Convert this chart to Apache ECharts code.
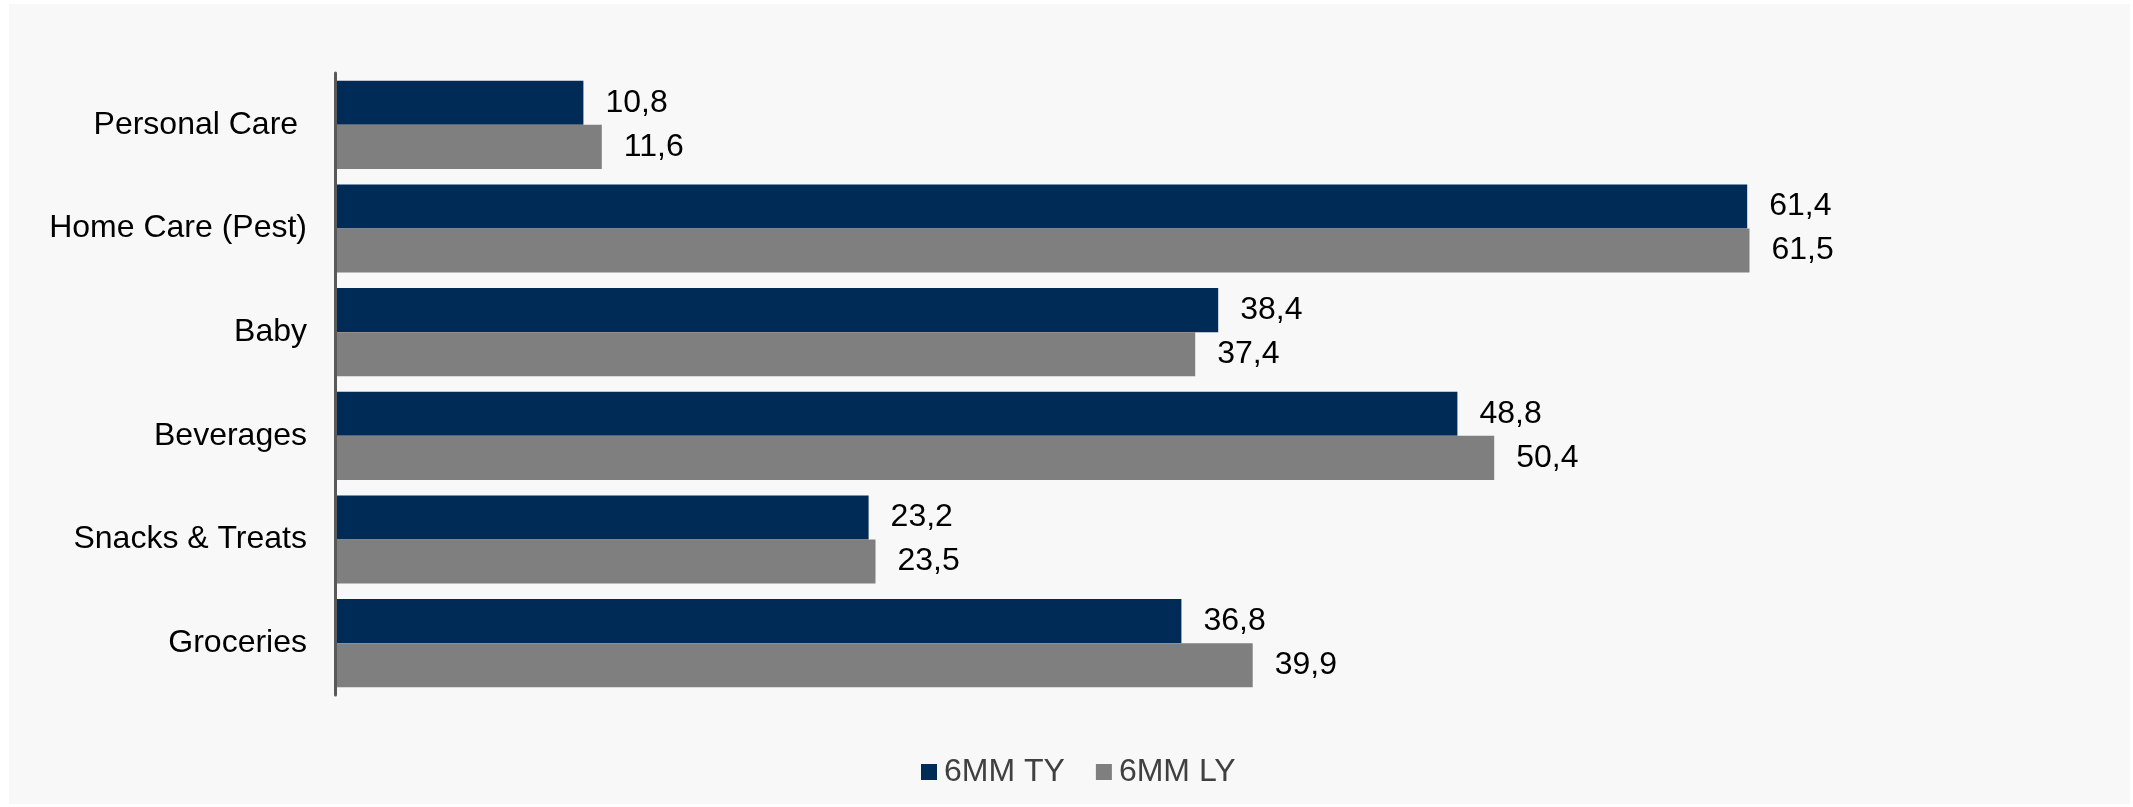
<!DOCTYPE html>
<html>
<head>
<meta charset="utf-8">
<script src="https://cdn.jsdelivr.net/npm/echarts@6/dist/echarts.min.js"></script>
<style>
  html, body { margin: 0; padding: 0; background: #ffffff; }
  #panel { position: absolute; left: 9px; top: 4px; width: 2121px; height: 800px; background: #f8f8f8; }
  #chart { position: absolute; left: 0; top: 0; width: 2133px; height: 807px; }
</style>
</head>
<body>
<div id="panel"></div>
<div id="chart"></div>
<script>
// Category names, top to bottom
const categories = ['Personal Care ', 'Home Care (Pest)', 'Baby', 'Beverages', 'Snacks & Treats', 'Groceries'];
// Series names
const seriesNames = ['6MM TY', '6MM LY'];
// Values per category
const valuesTY = [10.8, 61.4, 38.4, 48.8, 23.2, 36.8];
const valuesLY = [11.6, 61.5, 37.4, 50.4, 23.5, 39.9];

const FONT = '"Liberation Sans", Arial, sans-serif';
const fmt = p => p.value.toFixed(1).replace('.', ',');

const chart = echarts.init(document.getElementById('chart'), null, { renderer: 'canvas' });

function barSeries(name, data, color) {
  return {
    name: name,
    type: 'bar',
    data: data,
    barGap: '0%',
    barCategoryGap: '15%',
    itemStyle: { color: color },
    label: {
      show: true,
      position: 'right',
      distance: 22,
      formatter: fmt,
      color: '#000000',
      fontFamily: FONT,
      fontSize: 32
    },
    emphasis: { disabled: true }
  };
}

chart.setOption({
  backgroundColor: 'transparent',
  animation: false,
  grid: { left: 335, top: 73, height: 622, width: 1610, containLabel: false },
  xAxis: {
    type: 'value',
    min: 0,
    max: 70,
    show: false
  },
  yAxis: {
    type: 'category',
    data: categories,
    inverse: true,
    z: 3,
    axisLine: { show: true, lineStyle: { color: '#595959', width: 3 } },
    axisTick: { show: false },
    splitLine: { show: false },
    axisLabel: {
      margin: 28,
      color: '#000000',
      fontFamily: FONT,
      fontSize: 32
    }
  },
  legend: {
    data: seriesNames,
    left: 916,
    top: 751,
    icon: 'rect',
    itemWidth: 16,
    itemHeight: 16,
    itemGap: 31,
    textStyle: {
      color: '#404040',
      fontFamily: FONT,
      fontSize: 32,
      padding: [0, 0, 0, 2]
    }
  },
  series: [
    barSeries(seriesNames[0], valuesTY, '#002b56'),
    barSeries(seriesNames[1], valuesLY, '#7f7f7f')
  ]
});
</script>
</body>
</html>
